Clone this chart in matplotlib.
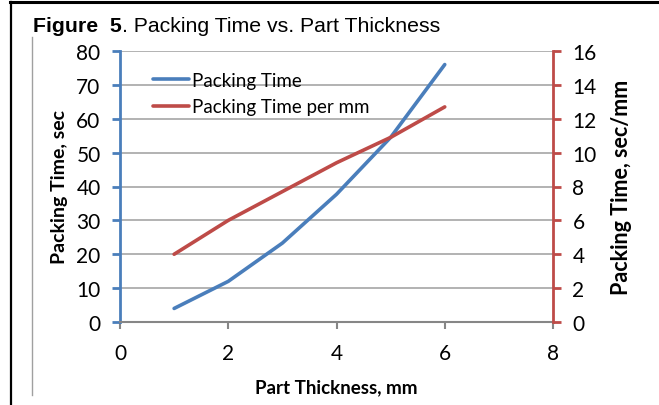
import matplotlib

matplotlib.use("Agg")
import matplotlib.pyplot as plt
from matplotlib.lines import Line2D

# data
thickness = [1, 2, 3, 4, 5, 6]
packing_time = [4, 12, 23.3, 37.7, 54.5, 76]
packing_per_mm = [4, 6, 7.7, 9.4, 10.9, 12.7]

x_ticks = [0, 2, 4, 6, 8]
left_ticks = list(range(0, 81, 10))
right_ticks = list(range(0, 17, 2))

BLUE = "#4A7EBB"
RED = "#BE4B48"
GRID = "#A6A6A6"
AXIS = "#868686"
FONT = "Lato"

W, H = 659, 406
fig = plt.figure(figsize=(W / 100, H / 100), dpi=100)

# outer frame pieces (top and left only) and inner chart border
fig.add_artist(Line2D([10 / W, 1], [1 - 3 / H, 1 - 3 / H], color="black", lw=2.2))
fig.add_artist(Line2D([10.5 / W, 10.5 / W], [0, 1 - 3 / H], color="black", lw=1.6))
fig.add_artist(Line2D([32 / W, 32 / W], [1 - 396 / H, 1 - 38 / H], color="#A0A0A0", lw=1))

t1 = fig.text(33 / W, 1 - 32 / H, "Figure  5", fontsize=15.3, fontweight="bold",
              family="Liberation Sans", va="baseline", ha="left")
renderer = fig.canvas.get_renderer()
bb = t1.get_window_extent(renderer)
fig.text(bb.x1 / W, 1 - 32 / H, ". Packing Time vs. Part Thickness", fontsize=15.3,
         family="Liberation Sans", va="baseline", ha="left")

x0, x1, y0, y1 = 120, 553, 52, 323
ax = fig.add_axes([x0 / W, 1 - y1 / H, (x1 - x0) / W, (y1 - y0) / H])
ax2 = ax.twinx()

ax.plot(thickness, packing_time, color=BLUE, lw=2.6, solid_capstyle="round",
        label="Packing Time")
ax2.plot(thickness, packing_per_mm, color=RED, lw=2.6, solid_capstyle="round",
         label="Packing Time per mm")

ax.set_xlim(0, 8)
ax.set_ylim(0, 80)
ax2.set_ylim(0, 16)
ax.set_xticks(x_ticks)
ax.set_yticks(left_ticks)
ax2.set_yticks(right_ticks)

ax.grid(axis="y", color=GRID, lw=1.2)
ax.set_axisbelow(True)

for a in (ax, ax2):
    a.spines["top"].set_visible(False)
ax.spines["right"].set_visible(False)
ax2.spines["left"].set_visible(False)
ax2.spines["bottom"].set_visible(False)
ax.spines["left"].set_color(BLUE)
ax.spines["left"].set_linewidth(2)
ax2.spines["right"].set_color(RED)
ax2.spines["right"].set_linewidth(2)
ax.spines["bottom"].set_color(AXIS)
ax.spines["bottom"].set_linewidth(1.5)

ax.tick_params(axis="y", direction="out", length=6, width=2, color=BLUE,
               labelsize=15, pad=8)
ax2.tick_params(axis="y", direction="out", length=6, width=2, color=RED,
                labelsize=15, pad=8)
ax.tick_params(axis="x", direction="out", length=5, width=1.5, color=AXIS,
               labelsize=15, pad=10)
for lab in ax.get_xticklabels() + ax.get_yticklabels() + ax2.get_yticklabels():
    lab.set_family(FONT)

ax.set_xlabel("Part Thickness, mm", family=FONT, fontweight="bold", fontsize=13.5, labelpad=11)
ax.set_ylabel("Packing Time, sec", family=FONT, fontweight="bold", fontsize=14, labelpad=6)
ax2.set_ylabel("Packing Time, sec/mm", family=FONT, fontweight="bold", fontsize=15.5,
               labelpad=10, rotation=90)

handles = [ax.get_lines()[0], ax2.get_lines()[0]]
ax.legend(handles, [h.get_label() for h in handles], loc="upper left",
          bbox_to_anchor=(0.058, 0.95), frameon=False, handlelength=1.95,
          handletextpad=0.15, labelspacing=0.5, borderaxespad=0,
          prop={"family": FONT, "size": 13.5})

fig.savefig("out.png", dpi=100)
